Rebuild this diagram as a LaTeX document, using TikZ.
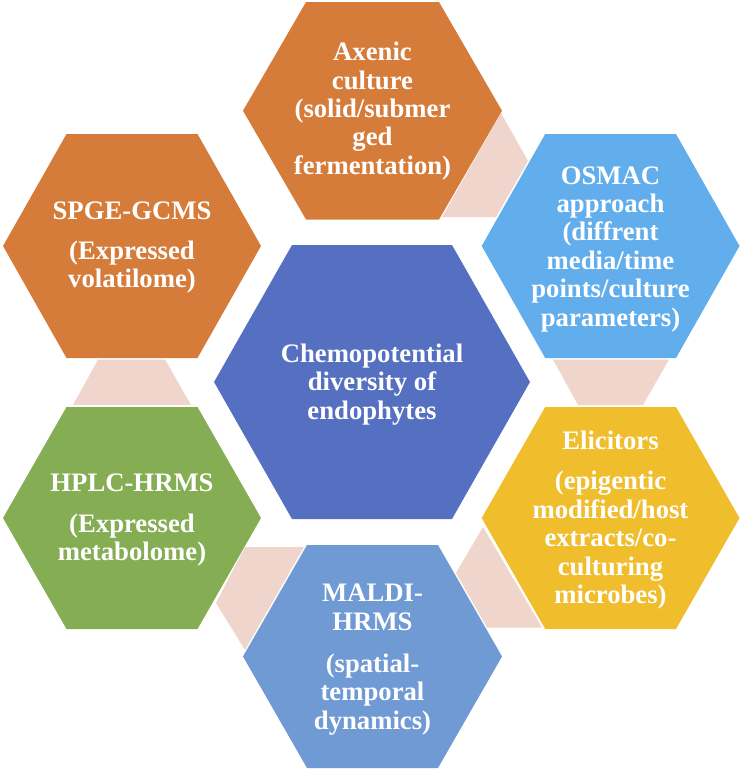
\documentclass[tikz,border=0pt]{standalone}
\usepackage{fontspec}
\setmainfont{Liberation Serif}
\definecolor{hexorange}{HTML}{D57C3A}
\definecolor{hexsky}{HTML}{62ADEC}
\definecolor{hexindigo}{HTML}{5570C0}
\definecolor{hexyellow}{HTML}{F0BD2D}
\definecolor{hexgreen}{HTML}{85AD53}
\definecolor{hexsteel}{HTML}{6F9AD3}
\definecolor{linkpink}{HTML}{EFD5CC}
\tikzset{
  linkshape/.style={fill=linkpink,draw=none},
  hexlabel/.style={text=white,align=center,font=\fontsize{26.7}{28.4}\selectfont\bfseries,inner sep=0pt}
}
% #1 fill, #2 left, #3 right, #4 top, #5 bottom, #6 inset
\newcommand{\hexagonshape}[6]{%
  \fill[#1] (#2,{(#4+#5)/2}) -- (#2+#6,#4) -- (#3-#6,#4) -- (#3,{(#4+#5)/2}) -- (#3-#6,#5) -- (#2+#6,#5) -- cycle;}
\begin{document}
\begin{tikzpicture}[x=1pt,y=-1pt]
\useasboundingbox (0,0) rectangle (743,772);
% connecting trapezoids
\fill[linkshape] (501,113) -- (528,161) -- (496,217) -- (442,217) -- cycle;
\fill[linkshape] (553,359.5) -- (669,359.5) -- (643,405) -- (578,405) -- cycle;
\fill[linkshape] (483,527) -- (542,627.5) -- (487,627.5) -- (456,573) -- cycle;
\fill[linkshape] (245,547) -- (304,547) -- (245,650) -- (216,603) -- cycle;
\fill[linkshape] (98,359.5) -- (165,359.5) -- (191,405) -- (73,405) -- cycle;
% hexagons
\hexagonshape{hexorange}{243}{502}{2}{219.5}{63}
\hexagonshape{hexsky}{481.7}{739.5}{134}{358}{63.5}
\hexagonshape{hexyellow}{481.7}{739.5}{407}{629}{63.5}
\hexagonshape{hexsteel}{243}{502}{545}{768}{64}
\hexagonshape{hexgreen}{3}{261}{407}{629}{63.5}
\hexagonshape{hexorange}{3}{261}{134}{358}{63.5}
\hexagonshape{hexindigo}{214}{530}{245}{519}{78}
% labels
\node[hexlabel] (axenic) at (372.5,111) {Axenic\\culture\\(solid/submer\\ged\\fermentation)};
\node[hexlabel] (osmac) at (610.5,249) {OSMAC\\approach\\(diffrent\\media/time\\points/culture\\parameters)};
\node[hexlabel] (elicitors) at (610.5,520) {Elicitors\\[12pt](epigentic\\modified/host\\extracts/co-\\culturing\\microbes)};
\node[hexlabel] (maldi) at (372.5,659.5) {MALDI-\\HRMS\\[14pt](spatial-\\temporal\\dynamics)};
\node[hexlabel] (hplc) at (132,520) {HPLC-HRMS\\[12pt](Expressed\\metabolome)};
\node[hexlabel] (spge) at (132,247.5) {SPGE-GCMS\\[12pt](Expressed\\volatilome)};
\node[hexlabel] (centre) at (372,384.5) {Chemopotential\\diversity of\\endophytes};
\end{tikzpicture}
\end{document}
